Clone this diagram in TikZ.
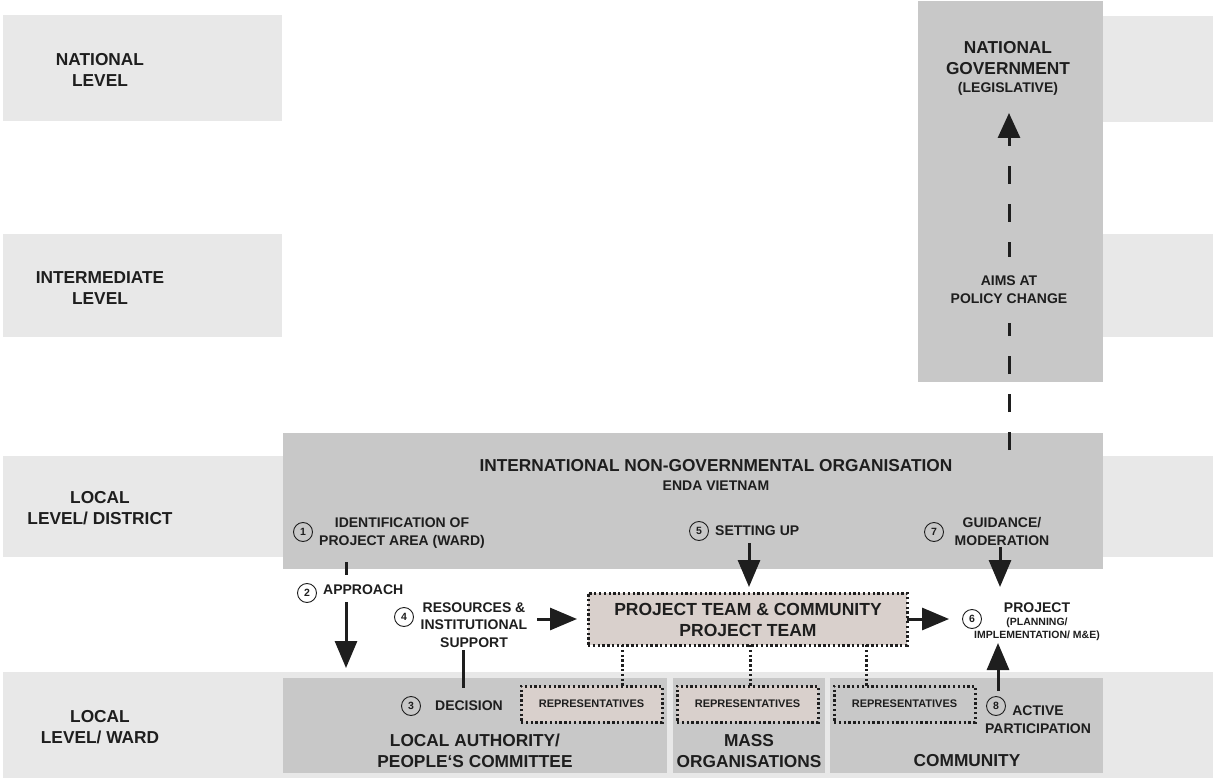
\documentclass[tikz,border=0pt]{standalone}
\usepackage{fontspec}
\setmainfont{Liberation Sans}
\usetikzlibrary{arrows.meta}
\definecolor{band}{HTML}{E8E8E8}
\definecolor{boxgray}{HTML}{C8C8C8}
\definecolor{beige}{HTML}{D9D0CC}
\definecolor{ink}{HTML}{1E1E1E}
\newcommand{\fs}[2]{\fontsize{#1}{#2}\selectfont}
\tikzset{
  rect/.style={draw=none, inner sep=0pt, outer sep=0pt, anchor=north west},
  bandbox/.style={rect, fill=band},
  graybox/.style={rect, fill=boxgray},
  dotbox/.style={rect, draw=ink, line width=3pt, dash pattern=on 2.3pt off 2.5pt},
  dotline/.style={draw=ink, line width=3pt, dash pattern=on 2.3pt off 2.5pt},
  txt/.style={text=ink, align=center, inner sep=0pt, font=\bfseries},
  big/.style={txt, font=\bfseries\fs{17.3}{21}},
  mid/.style={txt, font=\bfseries\fs{14}{18}},
  small/.style={txt, font=\bfseries\fs{10.5}{13}},
  num/.style={circle, draw=ink, line width=0.9pt, minimum size=19pt, inner sep=0pt, text=ink, font=\bfseries\fs{10.5}{10.5}},
  arr/.style={draw=ink, line width=3pt, -{Triangle[length=27pt,width=22pt]}},
  bar/.style={draw=ink, line width=3pt},
  dasharr/.style={draw=ink, line width=3pt, dash pattern=on 18pt off 20pt, -{Triangle[length=25pt,width=22pt]}},
}
\begin{document}
\begin{tikzpicture}[x=1pt,y=-1pt]
\useasboundingbox (0,0) rectangle (1213,778);
\fill[white] (0,0) rectangle (1213,778);
% level bands
\node[bandbox, minimum width=279pt, minimum height=106pt] (bnatL) at (3,15) {};
\node[bandbox, minimum width=110pt, minimum height=106pt] (bnatR) at (1103,16) {};
\node[bandbox, minimum width=279pt, minimum height=103pt] (bintL) at (3,234) {};
\node[bandbox, minimum width=110pt, minimum height=103pt] (bintR) at (1103,234) {};
\node[bandbox, minimum width=1210pt, minimum height=101pt] (bdist) at (3,456) {};
\node[bandbox, minimum width=1210pt, minimum height=106pt] (bward) at (3,672) {};
% level labels
\node[big] (lnat) at (100,70) {NATIONAL\\LEVEL};
\node[big] (lint) at (100,288) {INTERMEDIATE\\LEVEL};
\node[big] (ldist) at (100,508) {LOCAL\\LEVEL/ DISTRICT};
\node[big] (lward) at (100,727) {LOCAL\\LEVEL/ WARD};
% gray boxes
\node[graybox, minimum width=185pt, minimum height=381pt] (natgov) at (918,1) {};
\node[graybox, minimum width=820pt, minimum height=136pt] (ingo) at (283,433) {};
\node[graybox, minimum width=384pt, minimum height=95pt] (la) at (283,678) {};
\node[graybox, minimum width=152pt, minimum height=95pt] (mass) at (673,678) {};
\node[graybox, minimum width=273pt, minimum height=95pt] (comm) at (830,678) {};
% box texts
\node[big] (tnat) at (1008,58) {NATIONAL\\GOVERNMENT};
\node[mid] (tleg) at (1008,89) {(LEGISLATIVE)};
\node[big] (tingo) at (716,466) {INTERNATIONAL NON-GOVERNMENTAL ORGANISATION};
\node[mid] (tenda) at (716,486) {ENDA VIETNAM};
\node[big] (tla) at (475,751) {LOCAL AUTHORITY/\\PEOPLE‘S COMMITTEE};
\node[big] (tmass) at (749,751) {MASS\\ORGANISATIONS};
\node[big] (tcomm) at (967,761) {COMMUNITY};
% project team
\node[dotbox, fill=beige, minimum width=319pt, minimum height=52pt] (pt) at (588,593) {};
\node[big, font=\bfseries\fs{17.5}{21}] (tpt) at (748,620) {PROJECT TEAM \& COMMUNITY\\PROJECT TEAM};
% representatives
\node[dotbox, fill=beige, minimum width=141pt, minimum height=36pt] (rep1) at (521,686) {};
\node[dotbox, fill=beige, minimum width=141pt, minimum height=36pt] (rep2) at (677,686) {};
\node[dotbox, minimum width=141pt, minimum height=36pt] (rep3) at (834,686) {};
\node[txt, font=\bfseries\fs{11}{13}] at (rep1.center) {REPRESENTATIVES};
\node[txt, font=\bfseries\fs{11}{13}] at (rep2.center) {REPRESENTATIVES};
\node[txt, font=\bfseries\fs{11}{13}] at (rep3.center) {REPRESENTATIVES};
\draw[dotline] (622,0 |- pt.south) -- (622,0 |- rep1.north);
\draw[dotline] (750,0 |- pt.south) -- (750,0 |- rep2.north);
\draw[dotline] (866,0 |- pt.south) -- (866,0 |- rep3.north);
% step labels
\node[num] (c1) at (303,532) {1};
\node[mid] (t1) at (402,533) {IDENTIFICATION OF\\PROJECT AREA (WARD)};
\node[num] (c2) at (307,593) {2};
\node[mid, anchor=west] (t2) at (323,590) {APPROACH};
\node[num] (c4) at (404,617) {4};
\node[mid, font=\bfseries\fs{14}{17.5}] (t4) at (474,625) {RESOURCES \&\\INSTITUTIONAL\\SUPPORT};
\node[num] (c3) at (411,706) {3};
\node[mid] (t3) at (469,706) {DECISION};
\node[num] (c5) at (699,531) {5};
\node[mid, anchor=west] (t5) at (715,531) {SETTING UP};
\node[num] (c7) at (934,532) {7};
\node[mid] (t7) at (1002,531) {GUIDANCE/\\MODERATION};
\node[num] (c6) at (972,619) {6};
\node[mid] (t6a) at (1037,608) {PROJECT};
\node[small] (t6b) at (1037,629.5) {(PLANNING/\\IMPLEMENTATION/ M\&E)};
\node[num] (c8) at (996,706) {8};
\node[mid] (t8) at (1038,720) {ACTIVE\\PARTICIPATION};
% connectors
\coordinate (a1s) at (346,562);
\coordinate (a1e) at (346,575);
\coordinate (a2s) at (346,602);
\coordinate (a2e) at (346,668);
\draw[bar] (a1s) -- (a1e);
\draw[arr] (a2s) -- (a2e);
\coordinate (s5) at (749,543);
\draw[arr, shorten >=6pt] (s5) -- (s5 |- pt.north);
\coordinate (s7) at (1000,547);
\coordinate (e7) at (1000,587);
\draw[arr] (s7) -- (e7);
\coordinate (s4) at (537,619);
\draw[arr, shorten >=11pt] (s4) -- (s4 -| pt.west);
\draw[arr, shorten >=13pt] (pt.east) -- (c6.west);
\coordinate (s8) at (998,691);
\coordinate (e8) at (998,643);
\draw[arr] (s8) -- (e8);
\coordinate (d1) at (463,650);
\coordinate (d2) at (463,688);
\draw[bar] (d1) -- (d2);
\coordinate (pol) at (1009,450);
\coordinate (gov) at (1009,113);
\draw[dasharr] (pol) -- (gov);
\node[mid, fill=boxgray, minimum height=66pt, minimum width=130pt] (aims) at (1009,290) {AIMS AT\\POLICY CHANGE};
\end{tikzpicture}
\end{document}
